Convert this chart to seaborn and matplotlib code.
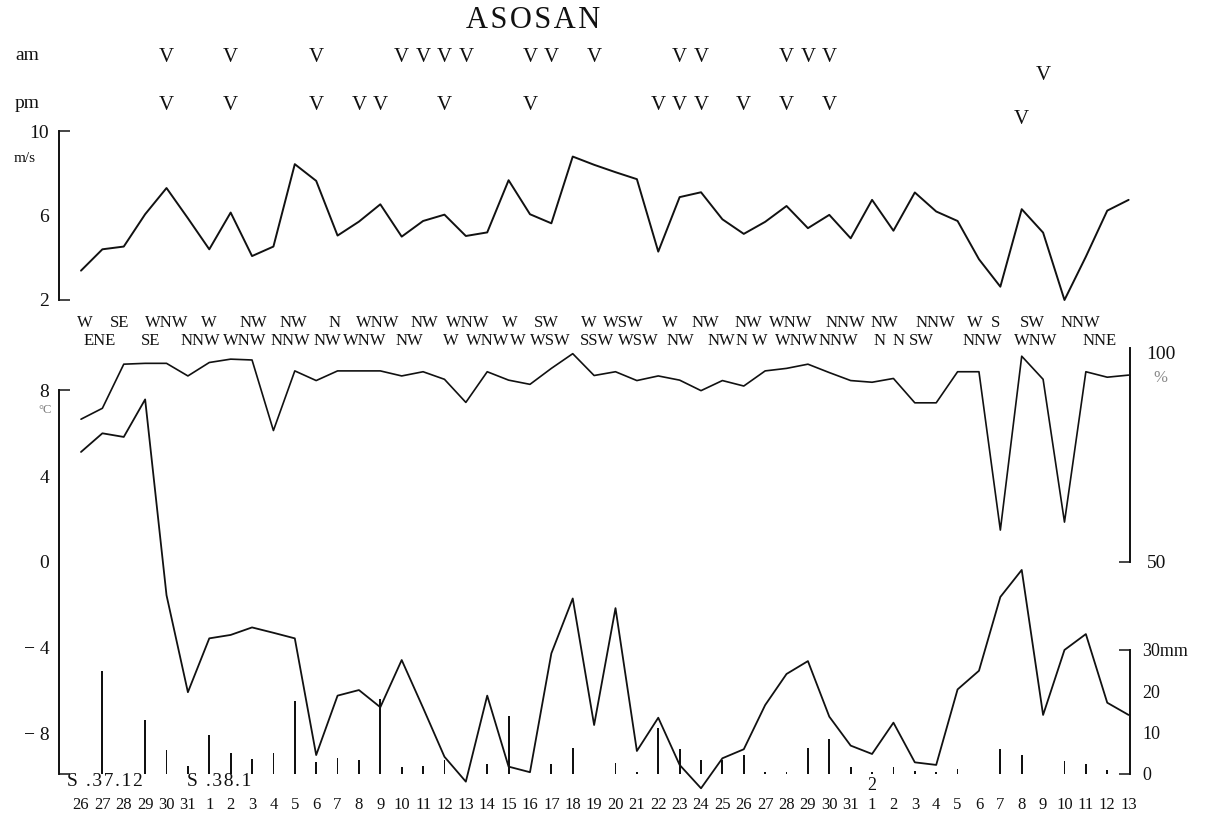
import numpy as np
import pandas as pd
import seaborn as sns
import matplotlib.pyplot as plt
import matplotlib.transforms as mtransforms
from matplotlib.ticker import FixedLocator, FixedFormatter, NullFormatter

# ---- daily records, 26 Dec 1962 (S.37) .. 13 Feb 1963 (S.38) ----
days = [26, 27, 28, 29, 30, 31,
        1, 2, 3, 4, 5, 6, 7, 8, 9, 10, 11, 12, 13, 14, 15, 16, 17, 18, 19, 20,
        21, 22, 23, 24, 25, 26, 27, 28, 29, 30, 31,
        1, 2, 3, 4, 5, 6, 7, 8, 9, 10, 11, 12, 13]

wind_speed = [3.39, 4.40, 4.53, 6.06, 7.30, 5.87, 4.40, 6.14, 4.08, 4.53,
              8.43, 7.64, 5.05, 5.71, 6.53, 5.00, 5.74, 6.04, 5.03, 5.20,
              7.67, 6.06, 5.63, 8.79, 8.40, 8.05, 7.72, 4.29, 6.87, 7.10,
              5.82, 5.13, 5.70, 6.45, 5.40, 6.03, 4.92, 6.74, 5.28, 7.09,
              6.19, 5.74, 3.93, 2.63, 6.30, 5.19, 2.00, 4.05, 6.23, 6.74]

temperature = [5.13, 6.00, 5.83, 7.58, -1.55, -6.07, -3.56, -3.40, -3.05, -3.30,
               -3.56, -9.00, -6.23, -5.97, -6.77, -4.57, -6.80, -9.08, -10.24, -6.23,
               -9.54, -9.80, -4.26, -1.70, -7.60, -2.15, -8.81, -7.26, -9.46, -10.55,
               -9.15, -8.73, -6.67, -5.22, -4.62, -7.21, -8.56, -8.95, -7.49, -9.34,
               -9.46, -5.94, -5.07, -1.63, -0.37, -7.13, -4.10, -3.36, -6.56, -7.13]

humidity = [84.0, 86.6, 97.1, 97.3, 97.3, 94.3, 97.5, 98.3, 98.1, 81.3,
            95.5, 93.2, 95.5, 95.5, 95.5, 94.3, 95.3, 93.5, 88.0, 95.3,
            93.3, 92.3, 96.1, 99.6, 94.4, 95.3, 93.2, 94.3, 93.3, 90.8,
            93.2, 91.9, 95.5, 96.1, 97.1, 95.1, 93.2, 92.8, 93.7, 87.9,
            87.9, 95.3, 95.3, 57.6, 99.0, 93.5, 59.5, 95.3, 94.0, 94.5]

precipitation = [0.0, 25.0, 0.0, 13.0, 5.7, 1.8, 9.3, 4.9, 3.5, 5.1,
                 17.5, 2.8, 3.8, 3.2, 18.0, 1.6, 1.8, 3.2, 0.0, 2.4,
                 14.0, 0.0, 2.3, 6.2, 0.0, 2.6, 0.4, 11.0, 5.9, 3.2,
                 3.3, 4.5, 0.3, 0.3, 6.2, 8.3, 1.6, 0.4, 1.6, 0.5,
                 0.4, 1.2, 0.0, 6.0, 4.6, 0.0, 3.0, 2.4, 0.8, 0.0]

# prevailing wind direction, printed on two staggered lines
dir_upper = ["W", "SE", "WNW", "W", "NW", "NW", "N", "WNW", "NW", "WNW",
             "W", "SW", "W", "WSW", "W", "NW", "NW", "WNW", "NNW", "NW",
             "NNW", "W", "S", "SW", "NNW"]
dir_lower = ["ENE", "SE", "NNW", "WNW", "NNW", "NW", "WNW", "NW", "W", "WNW",
             "W", "WSW", "SSW", "WSW", "NW", "NW", "N W", "WNW", "NNW", "N",
             "N", "SW", "NNW", "WNW", "NNE"]

# days (index into the record) carrying a "V" in the am / pm rows
am_marks = [4, 7, 11, 15, 16, 17, 18, 21, 22, 24, 28, 29, 33, 34, 35, 45]
pm_marks = [4, 7, 11, 13, 14, 17, 21, 27, 28, 29, 31, 33, 35, 44]

wind_ticks = [2, 6, 10]
temp_ticks = [-8, -4, 0, 4, 8]
temp_tick_labels = ["\u2212 8", "\u2212 4", "0", "4", "8"]
hum_ticks = [50, 100]
rain_ticks = [0, 10, 20, 30]
rain_tick_labels = ["0", "10", "20", "30mm"]

# ---- layout (pixels) ----
W, H = 1205, 819
X0, DX = 81.0, 21.38          # pixel of first day, pixels per day
AX_L, AX_R = 59.0, 1130.0
XLIM = ((AX_L - X0) / DX, (AX_R - X0) / DX)

# horizontal placement of the staggered direction labels (pixels)
upper_px = [85, 120, 167, 209, 253, 293, 335, 378, 424, 468,
            510, 546, 589, 623, 670, 705, 748, 791, 845, 884,
            935, 975, 996, 1032, 1080]
lower_px = [100, 151, 200, 245, 290, 327, 365, 409, 451, 488,
            518, 550, 597, 638, 680, 721, 752, 797, 838, 880,
            899, 921, 982, 1036, 1100]

sns.set_theme(style="white")
plt.rcParams["font.family"] = ["Liberation Serif", "DejaVu Serif"]
plt.rcParams["axes.unicode_minus"] = True

fig = plt.figure(figsize=(W / 100, H / 100), dpi=100)
px = mtransforms.Affine2D().scale(1 / W, -1 / H).translate(0, 1) + fig.transFigure


def px_axes(l, t, r, b):
    return fig.add_axes([l / W, 1 - b / H, (r - l) / W, (b - t) / H])


idx = np.arange(len(days))
df = pd.DataFrame({"i": idx, "wind": wind_speed, "temp": temperature,
                   "hum": humidity, "rain": precipitation})
INK = "#111111"

# ---- wind speed panel ----
ax_w = px_axes(AX_L, 131, AX_R, 300)
sns.lineplot(data=df, x="i", y="wind", ax=ax_w, color=INK, lw=1.4, clip_on=False)
ax_w.set_ylim(2, 10)

# ---- temperature / humidity / precipitation panel ----
TK = 21.45
ax_t = px_axes(AX_L, 340, AX_R, 773.5)
t_lo, t_hi = (562 - 773.5) / TK, (562 - 340) / TK
ax_h = ax_t.twinx()
ax_p = ax_t.twinx()

sns.barplot(data=df, x="i", y="rain", ax=ax_p, color=INK, width=0.085,
            saturation=1, errorbar=None, linewidth=0, native_scale=True)
sns.lineplot(data=df, x="i", y="temp", ax=ax_t, color=INK, lw=1.3, clip_on=False)
sns.lineplot(data=df, x="i", y="hum", ax=ax_h, color=INK, lw=1.2, clip_on=False)

ax_t.set_ylim(t_lo, t_hi)
HK = 4.2
ax_h.set_ylim(50 - (773.5 - 562) / HK, 50 + (562 - 340) / HK)
PK = (773.5 - 650) / 30
ax_p.set_ylim(0, (773.5 - 340) / PK)

for ax in (ax_w, ax_t, ax_h, ax_p):
    ax.set_xlim(*XLIM)
    ax.set_xticks([])
    ax.set_xlabel("")
    ax.set_ylabel("")
    for s in ax.spines.values():
        s.set_visible(False)
    ax.patch.set_alpha(0)
    ax.grid(False)
    ax.yaxis.remove_overlapping_locs = False

LABEL_FS = 14
# left scales
ax_w.spines["left"].set_visible(True)
ax_w.spines["left"].set_bounds(2, 10)
ax_w.yaxis.set_major_locator(FixedLocator(wind_ticks))
ax_w.yaxis.set_major_formatter(FixedFormatter([str(v) for v in wind_ticks]))
ax_w.yaxis.set_minor_locator(FixedLocator([2, 10]))
ax_w.tick_params(axis="y", which="major", length=0, pad=7, labelsize=LABEL_FS)
ax_w.tick_params(axis="y", which="minor", direction="in", length=8, width=1.2, left=True)

ax_t.spines["left"].set_visible(True)
ax_t.spines["left"].set_bounds(t_lo, 8)
ax_t.yaxis.set_major_locator(FixedLocator(temp_ticks))
ax_t.yaxis.set_major_formatter(FixedFormatter(temp_tick_labels))
ax_t.yaxis.set_minor_locator(FixedLocator([t_lo, 8]))
ax_t.tick_params(axis="y", which="major", length=0, pad=7, labelsize=LABEL_FS)
ax_t.tick_params(axis="y", which="minor", direction="in", length=8, width=1.2, left=True)

# right scales
ax_h.spines["right"].set_visible(True)
ax_h.spines["right"].set_bounds(50, 101)
ax_h.yaxis.set_major_locator(FixedLocator(hum_ticks))
ax_h.yaxis.set_major_formatter(FixedFormatter([str(v) for v in hum_ticks]))
ax_h.yaxis.set_minor_locator(FixedLocator([50]))
ax_h.tick_params(axis="y", which="major", length=0, pad=12, labelsize=LABEL_FS)
ax_h.tick_params(axis="y", which="minor", direction="in", length=8, width=1.2, right=True)

ax_p.spines["right"].set_visible(True)
ax_p.spines["right"].set_bounds(0, 30)
ax_p.yaxis.set_major_locator(FixedLocator(rain_ticks))
ax_p.yaxis.set_major_formatter(FixedFormatter(rain_tick_labels))
ax_p.yaxis.set_minor_locator(FixedLocator([0, 30]))
ax_p.tick_params(axis="y", which="major", length=0, pad=9, labelsize=LABEL_FS - 1)
ax_p.tick_params(axis="y", which="minor", direction="in", length=8, width=1.2, right=True)

for ax in (ax_w, ax_t, ax_h, ax_p):
    for s in ax.spines.values():
        s.set_color(INK)
        s.set_linewidth(1.4)
    ax.tick_params(colors=INK)
    ax.yaxis.set_minor_formatter(NullFormatter())

# ---- texts ----
xd = mtransforms.blended_transform_factory(ax_w.transData, px)
hs = "\u200a"

fig.text(533, 21, hs.join("ASOSAN"), transform=px,
         ha="center", va="center", fontsize=22, color=INK)
fig.text(27, 56, "am", transform=px, ha="center", va="center", fontsize=14, color=INK)
fig.text(27, 104, "pm", transform=px, ha="center", va="center", fontsize=14, color=INK)
fig.text(25, 158, "m/s", transform=px, ha="center", va="center", fontsize=11, color=INK)
fig.text(45, 410, "°C", transform=px, ha="center", va="center", fontsize=9, color="#777777")
fig.text(1160, 378, "%", transform=px, ha="center", va="center", fontsize=12, color="#888888")

for d in am_marks:
    y = 76 if d == 45 else 57
    fig.text(d, y, "V", transform=xd, ha="center", va="center", fontsize=15, color=INK)
for d in pm_marks:
    y = 120 if d == 44 else 106
    fig.text(d, y, "V", transform=xd, ha="center", va="center", fontsize=15, color=INK)

for lab, x in zip(dir_upper, upper_px):
    fig.text(x, 323, lab, transform=px, ha="center", va="center", fontsize=12, color=INK)
for lab, x in zip(dir_lower, lower_px):
    fig.text(x, 341, lab, transform=px, ha="center", va="center", fontsize=12, color=INK)

for i, d in enumerate(days):
    fig.text(i, 805, str(d), transform=xd, ha="center", va="center", fontsize=12, color=INK)
fig.text(67, 781, hs.join("S .37.12"), transform=px, ha="left", va="center",
         fontsize=14, color=INK)
fig.text(187, 781, hs.join("S .38.1"), transform=px, ha="left", va="center",
         fontsize=14, color=INK)
fig.text(37, 785, "2", transform=xd, ha="center", va="center", fontsize=13, color=INK)

fig.savefig("out.png", dpi=100, facecolor="white")
